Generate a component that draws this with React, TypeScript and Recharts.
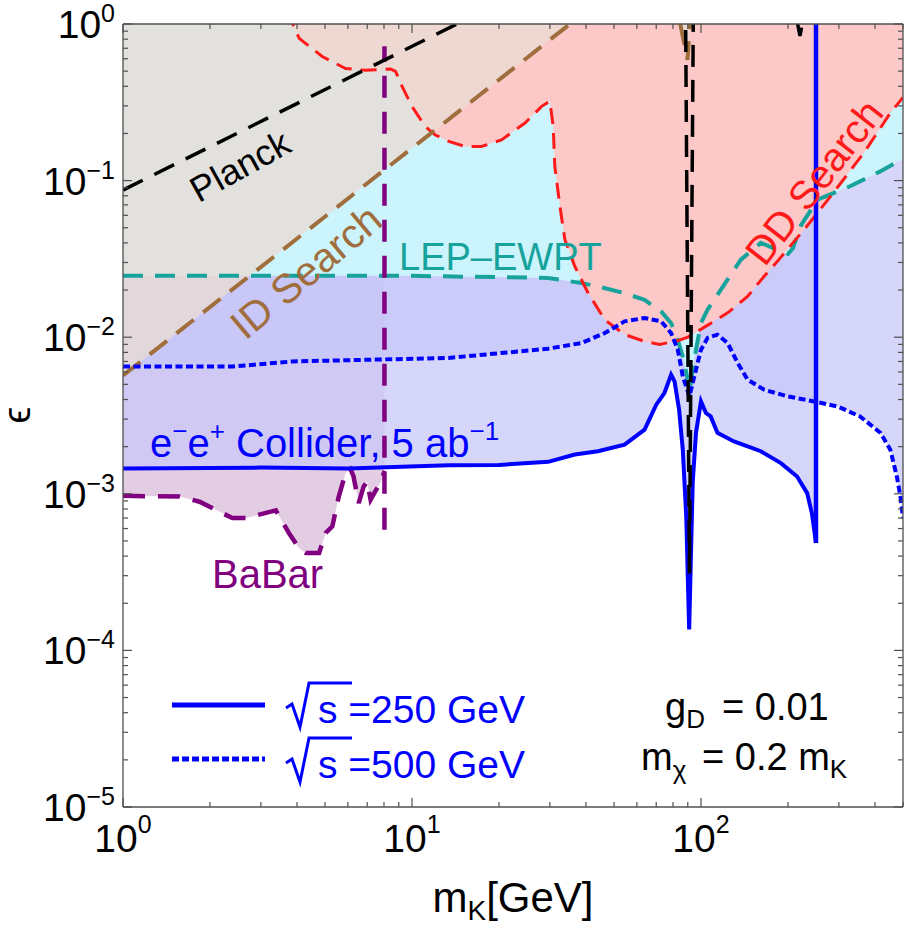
import React from "react";
import { Area, ComposedChart, Line, ReferenceLine, XAxis, YAxis } from "recharts";

type Pt = [number, number];

// [m_K in GeV, epsilon]
const planck: Pt[] = [
  [1, 0.087], [14.3, 1.0], [50, 3.5], [85, 3.0], [88.5, 1.0], [91.2, 3.1e-4], [94, 1.0],
  [110, 3.5], [200, 3.0], [216, 1.0], [220, 0.84], [224, 1.0], [260, 3.0], [500, 6.0]
];

const idSearch: Pt[] = [
  [1, 0.0057], [35.2, 1.0], [60, 2.0], [84.8, 1.0], [89.8, 0.59], [91.5, 1.0], [110, 2.5], [500, 10]
];

const ddSearch: Pt[] = [
  [3.7, 1.2], [4.07, 0.81], [4.89, 0.62], [5.89, 0.52], [6.9, 0.506], [8.43, 0.516], [8.77, 0.498],
  [9.24, 0.4], [10, 0.298], [11.1, 0.222], [12, 0.196], [13.4, 0.178], [15.3, 0.165], [17.4, 0.165],
  [20.4, 0.182], [24.6, 0.233], [28.1, 0.298], [30, 0.321], [30.8, 0.222], [31.2, 0.123],
  [32.5, 0.0685], [33.8, 0.042], [36.6, 0.0283], [40.7, 0.0191], [46.5, 0.0129], [54.4, 0.0104],
  [63.8, 0.0094], [71.9, 0.009], [83.1, 0.0095], [90, 0.01], [102.8, 0.0116], [123.6, 0.0143],
  [144.9, 0.0182], [165.4, 0.0245], [183.8, 0.0305], [227.3, 0.0486], [280.8, 0.0793],
  [365.8, 0.15], [452, 0.27], [500, 0.34]
];

const lepEwpt: Pt[] = [
  [1, 0.0247], [9.3, 0.0247], [29.6, 0.0239], [38.5, 0.0222], [44, 0.0211], [54.4, 0.0191],
  [63.8, 0.0173], [72.8, 0.0146], [78.8, 0.0123], [83.1, 0.0096], [86.5, 0.0075], [90, 0.00535],
  [91.2, 0.0044], [93.6, 0.0062], [96.1, 0.0083], [100, 0.0123], [105.4, 0.015], [117.2, 0.0201],
  [137.4, 0.0313], [161, 0.04], [185, 0.036], [200, 0.034], [208, 0.037], [222, 0.052],
  [253, 0.0755], [328, 0.092], [417, 0.1145], [483, 0.133], [500, 0.136]
];

const collider250: Pt[] = [
  [1, 1.45e-3], [3, 1.47e-3], [6, 1.45e-3], [13.4, 1.52e-3], [20, 1.53e-3], [29.6, 1.6e-3],
  [36.6, 1.78e-3], [44, 1.87e-3], [54.4, 2.06e-3], [63.8, 2.57e-3], [70, 3.71e-3], [74.7, 4.4e-3],
  [78.8, 5.76e-3], [81, 5.22e-3], [84, 3.44e-3], [86.5, 1.91e-3], [88.9, 7.2e-4], [91, 1.36e-4],
  [93.6, 1.18e-3], [96.1, 2.46e-3], [100, 3.89e-3], [104, 3.28e-3], [108, 3.12e-3], [114, 2.45e-3],
  [130, 2.16e-3], [145, 2.01e-3], [161, 1.87e-3], [189, 1.57e-3], [215, 1.29e-3], [233, 1.01e-3],
  [242, 7.5e-4], [250, 4.85e-4]
];
const collider250Edge: Pt[] = [[250, 4.85e-4], [250, 1.2]];

const collider500: Pt[] = [
  [1, 6.5e-3], [2.4, 6.5e-3], [3.85, 7.0e-3], [13.4, 7.37e-3], [29.6, 8.45e-3], [38.6, 9.18e-3],
  [46.5, 0.01064], [54.4, 0.01262], [63.8, 0.01327], [72.8, 0.01262], [78.8, 0.01064],
  [83.1, 8.32e-3], [86.5, 5.62e-3], [91.2, 4.19e-3], [94.8, 5.62e-3], [100, 8.32e-3],
  [105.4, 9.9e-3], [114, 0.01038], [123.6, 9.18e-3], [134, 6.84e-3], [145, 5.35e-3],
  [165.4, 4.62e-3], [199.5, 4.19e-3], [246, 3.89e-3], [297, 3.61e-3], [355, 3.12e-3],
  [418, 2.45e-3], [452, 1.91e-3], [476, 1.29e-3], [490, 9.6e-4], [500, 7e-4]
];

const babar: Pt[] = [
  [1, 9.7e-4], [1.57, 9.6e-4], [1.84, 8.9e-4], [2.39, 7.0e-4], [2.66, 7.0e-4], [3.38, 7.83e-4],
  [3.75, 5.62e-4], [4.06, 4.51e-4], [4.29, 4.19e-4], [4.77, 4.19e-4], [5.03, 5.62e-4],
  [5.3, 6.19e-4], [5.58, 9.6e-4], [5.89, 1.36e-3], [6.12, 1.44e-3], [6.27, 1.3e-3],
  [6.54, 8.73e-4], [6.8, 1.11e-3], [6.99, 1.2e-3], [7.19, 9.17e-4], [7.47, 1.04e-3],
  [7.87, 1.23e-3], [8.03, 1.4e-3]
];
const babarEdge: Pt[] = [[8.03, 5.9e-4], [8.03, 0.72]];

const xTicks = [1, 2, 3, 4, 5, 6, 7, 8, 9, 10, 20, 30, 40, 50, 60, 70, 80, 90, 100, 200, 300, 400, 500];
const yDecades = [1e-5, 1e-4, 1e-3, 1e-2, 1e-1];
const minorSteps = [1, 2, 3, 4, 5, 6, 7, 8, 9];
const yTicks = [...yDecades.flatMap((d) => minorSteps.map((k) => k * d)), 1];

const TOP = 24;
const BOTTOM = 807;
const LEFT = 123;
const RIGHT = 903;
const FONT = '"Liberation Sans", Arial, Helvetica, sans-serif';
const FRAME = "#505050";
const BLUE = "#0000ff";
const TEAL = "#17a39c";
const BROWN = "#a06e3c";
const PURPLE = "#800080";
const RED = "#ff1a1a";

const asLine = (pts: Pt[]) => pts.map(([m, eps]) => ({ m, eps }));
const asBand = (pts: Pt[]) => pts.map(([m, eps]) => ({ m, band: [eps, 1] }));

const isMajor = (v: number) => {
  const l = Math.log10(v);
  return Math.abs(l - Math.round(l)) < 1e-6;
};
const expLabel = (v: number) => {
  const e = Math.round(Math.log10(v));
  return e < 0 ? `\u2212${-e}` : `${e}`;
};

function XTick(props: any) {
  const { x, payload } = props;
  const major = isMajor(payload.value);
  const len = major ? 9 : 5;
  return (
    <g>
      <line x1={x} x2={x} y1={BOTTOM} y2={BOTTOM - len} stroke={FRAME} strokeWidth={1.2} />
      <line x1={x} x2={x} y1={TOP} y2={TOP + len} stroke={FRAME} strokeWidth={1.2} />
      {major ? (
        <text x={x} y={852} textAnchor="middle" fontFamily={FONT} fontSize={39} fill="#000">
          10
          <tspan fontSize={25} dy={-19}>
            {expLabel(payload.value)}
          </tspan>
        </text>
      ) : null}
    </g>
  );
}

function YTick(props: any) {
  const { y, payload } = props;
  const major = isMajor(payload.value);
  const len = major ? 9 : 5;
  return (
    <g>
      <line x1={LEFT} x2={LEFT + len} y1={y} y2={y} stroke={FRAME} strokeWidth={1.2} />
      <line x1={RIGHT} x2={RIGHT - len} y1={y} y2={y} stroke={FRAME} strokeWidth={1.2} />
      {major ? (
        <text x={115} y={y + 14} textAnchor="end" fontFamily={FONT} fontSize={39} fill="#000">
          10
          <tspan fontSize={25} dy={-16}>
            {expLabel(payload.value)}
          </tspan>
        </text>
      ) : null}
    </g>
  );
}

function Radical({ y }: { y: number }) {
  return (
    <path
      d={`M286,${y + 25} L292,${y + 21} L300,${y + 44} L309,${y} L352,${y}`}
      fill="none"
      stroke={BLUE}
      strokeWidth={3}
    />
  );
}

function Annotations() {
  return (
    <svg
      width={904}
      height={925}
      style={{ position: "absolute", left: 0, top: 0, pointerEvents: "none" }}
      fontFamily={FONT}
    >
      <text x={240} y={166} transform="rotate(-29 240 166)" textAnchor="middle" dominantBaseline="central" fontSize={36} fill="#000">
        Planck
      </text>
      <text x={306} y={272} transform="rotate(-40 306 272)" textAnchor="middle" dominantBaseline="central" fontSize={41} fill={BROWN}>
        ID Search
      </text>
      <text x={814} y={182} transform="rotate(-52 814 182)" textAnchor="middle" dominantBaseline="central" fontSize={40} fill={RED}>
        DD Search
      </text>
      <text x={399} y={270} fontSize={38} fill={TEAL}>
        LEP–EWPT
      </text>
      <text x={150} y={457} fontSize={40} fill={BLUE}>
        e<tspan fontSize={26} dy={-17}>−</tspan>
        <tspan dy={17}>e</tspan>
        <tspan fontSize={26} dy={-17}>+</tspan>
        <tspan dy={17}> Collider, 5 ab</tspan>
        <tspan fontSize={26} dy={-17}>−1</tspan>
      </text>
      <text x={212} y={588} fontSize={40} fill={PURPLE}>
        BaBar
      </text>

      <line x1={172} x2={265} y1={705} y2={705} stroke={BLUE} strokeWidth={5} />
      <line x1={172} x2={265} y1={759} y2={759} stroke={BLUE} strokeWidth={5} strokeDasharray="7 3" />
      <Radical y={683} />
      <Radical y={738} />
      <text x={318} y={723} fontSize={39} fill={BLUE}>
        s =250 GeV
      </text>
      <text x={318} y={778} fontSize={39} fill={BLUE}>
        s =500 GeV
      </text>

      <text x={665} y={720} fontSize={38} fill="#000">
        g<tspan fontSize={26} dy={8}>D</tspan>
      </text>
      <text x={722} y={720} fontSize={38} fill="#000">
        = 0.01
      </text>
      <text x={641} y={770} fontSize={38} fill="#000">
        m<tspan fontSize={26} dy={9}>χ</tspan>
      </text>
      <text x={702} y={770} fontSize={38} fill="#000">
        = 0.2 m<tspan fontSize={26} dy={8}>K</tspan>
      </text>

      <text x={513} y={912} textAnchor="middle" fontSize={42} fill="#000">
        m<tspan fontSize={28} dy={8}>K</tspan>
        <tspan dy={-8}>[GeV]</tspan>
      </text>
      <text x={0} y={0} transform="translate(30 415) rotate(-90)" textAnchor="middle" fontSize={38} fill="#000">
        ϵ
      </text>
    </svg>
  );
}

export default function App() {
  return (
    <div style={{ position: "absolute", left: 0, top: 0, width: 904, height: 925, background: "#fff" }}>
      <ComposedChart width={904} height={925} margin={{ top: TOP, right: 904 - RIGHT, left: 0, bottom: 0 }}>
        <XAxis
          dataKey="m"
          type="number"
          scale="log"
          domain={[1, 500]}
          allowDataOverflow
          ticks={xTicks}
          interval={0}
          height={925 - BOTTOM}
          tickSize={0}
          tickMargin={0}
          tickLine={false}
          tick={<XTick />}
          axisLine={{ stroke: FRAME, strokeWidth: 1.3 }}
        />
        <YAxis
          type="number"
          scale="log"
          domain={[1e-5, 1]}
          allowDataOverflow
          ticks={yTicks}
          interval={0}
          width={LEFT}
          tickSize={0}
          tickMargin={0}
          tickLine={false}
          tick={<YTick />}
          axisLine={{ stroke: FRAME, strokeWidth: 1.3 }}
        />

        <Area data={asBand(babar)} dataKey="band" type="linear" stroke="none" fill="#e3cde3" fillOpacity={1} isAnimationActive={false} />
        <Area data={asBand(collider250)} dataKey="band" type="linear" stroke="none" fill="#c7c7fa" fillOpacity={0.73} isAnimationActive={false} />
        <Area data={asBand(collider500)} dataKey="band" type="linear" stroke="none" fill="#c7c7fa" fillOpacity={0.73} isAnimationActive={false} />
        <Area data={asBand(lepEwpt)} dataKey="band" type="linear" stroke="none" fill="#ccf4fc" fillOpacity={1} isAnimationActive={false} />
        <Area data={asBand(ddSearch)} dataKey="band" type="linear" stroke="none" fill="#fcc8c8" fillOpacity={1} isAnimationActive={false} />
        <Area data={asBand(idSearch)} dataKey="band" type="linear" stroke="none" fill="#e9dcd5" fillOpacity={0.8} isAnimationActive={false} />

        <Line data={asLine(lepEwpt)} dataKey="eps" type="linear" stroke={TEAL} strokeWidth={4} strokeDasharray="20 12" dot={false} activeDot={false} isAnimationActive={false} />
        <Line data={asLine(ddSearch)} dataKey="eps" type="linear" stroke={RED} strokeWidth={3} strokeDasharray="16 9" dot={false} activeDot={false} isAnimationActive={false} />
        <Line data={asLine(idSearch)} dataKey="eps" type="linear" stroke={BROWN} strokeWidth={4} strokeDasharray="22 12" dot={false} activeDot={false} isAnimationActive={false} />
        <Line data={asLine(babar)} dataKey="eps" type="linear" stroke={PURPLE} strokeWidth={4.5} strokeDasharray="22 13" dot={false} activeDot={false} isAnimationActive={false} />
        <Line data={asLine(babarEdge)} dataKey="eps" type="linear" stroke={PURPLE} strokeWidth={4.5} strokeDasharray="22 14" dot={false} activeDot={false} isAnimationActive={false} />
        <Line data={asLine(collider500)} dataKey="eps" type="linear" stroke={BLUE} strokeWidth={4} strokeDasharray="7 3.5" dot={false} activeDot={false} isAnimationActive={false} />
        <Line data={asLine(collider250)} dataKey="eps" type="linear" stroke={BLUE} strokeWidth={4} dot={false} activeDot={false} isAnimationActive={false} />
        <Line data={asLine(collider250Edge)} dataKey="eps" type="linear" stroke={BLUE} strokeWidth={4.5} dot={false} activeDot={false} isAnimationActive={false} />
        <Line data={asLine(planck)} dataKey="eps" type="linear" stroke="#000" strokeWidth={3.5} strokeDasharray="22 13" dot={false} activeDot={false} isAnimationActive={false} />

        <ReferenceLine y={1} stroke={FRAME} strokeWidth={1.3} />
        <ReferenceLine x={500} stroke={FRAME} strokeWidth={1.3} />
      </ComposedChart>
      <Annotations />
    </div>
  );
}
